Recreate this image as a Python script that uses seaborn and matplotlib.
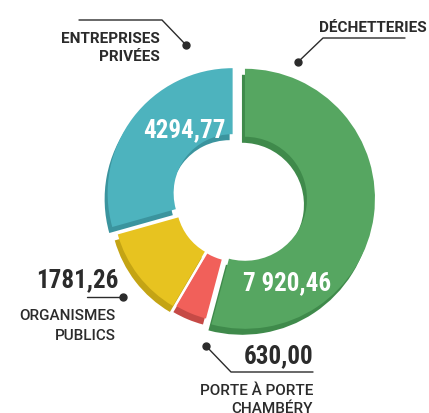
import matplotlib
matplotlib.use('Agg')
import matplotlib.pyplot as plt
import seaborn as sns

# ---- data ----
categories = ['DÉCHETTERIES', 'PORTE À PORTE\nCHAMBÉRY', 'ORGANISMES\nPUBLICS', 'ENTREPRISES\nPRIVÉES']
values = [7920.46, 630.00, 1781.26, 4294.77]
value_labels = ['7 920,46', '630,00', '1781,26', '4294,77']
colors = ['#56A661', '#F1605A', '#E7C320', '#4DB3BE']
shadow_colors = ['#3F8A4B', '#C64A46', '#C4A414', '#3B949E']

sns.set_theme(style='white')
plt.rcParams['font.family'] = ['Roboto', 'DejaVu Sans']

W, H = 429, 413
fig = plt.figure(figsize=(W / 100, H / 100), dpi=100)
ax = fig.add_axes([0, 0, 1, 1])

def Y(y):
    return H - y

cx, cy = 239, Y(198)
R = 130
outer = [130, 119, 121, 125]
inner = [62, 58, 58, 59]
expl = [6, 6, 6, 8]

def draw(center, cols, z):
    wedges, _ = ax.pie(values, radius=R, center=center, startangle=90, counterclock=False,
                       colors=cols, explode=expl, wedgeprops=dict(width=R - 62, linewidth=0))
    for w, ro, ri in zip(wedges, outer, inner):
        w.set_radius(ro)
        w.set_width(ro - ri)
        w.set_zorder(z)
    return wedges

draw((cx - 3, cy - 6), shadow_colors, 1)   # 3D shadow
draw((cx, cy), colors, 2)                  # main ring

ax.set_xlim(0, W)
ax.set_ylim(0, H)
ax.set_aspect('equal')
ax.axis('off')

dark = '#2b2b2b'
numfont = ['Liberation Sans Narrow', 'Roboto Condensed', 'Roboto', 'DejaVu Sans']

# values inside slices
ax.text(184, Y(137), value_labels[3], color='white', fontsize=18, fontweight='bold',
        family=numfont, ha='center', va='baseline', zorder=5)
ax.text(287, Y(290), value_labels[0], color='white', fontsize=18, fontweight='bold',
        family=numfont, ha='center', va='baseline', zorder=5)

# values outside
ax.text(118, Y(287), value_labels[2], color=dark, fontsize=18, fontweight='bold',
        family=numfont, ha='right', va='baseline')
ax.text(313, Y(363), value_labels[1], color=dark, fontsize=18, fontweight='bold',
        family=numfont, ha='right', va='baseline')

# category labels
ax.text(160, Y(43), 'ENTREPRISES', color=dark, fontsize=11, fontweight='bold', ha='right', va='baseline')
ax.text(160, Y(61), 'PRIVÉES', color=dark, fontsize=11, fontweight='bold', ha='right', va='baseline')
ax.text(427, Y(32), categories[0], color=dark, fontsize=11, fontweight='bold', ha='right', va='baseline')
ax.text(116, Y(320), 'ORGANISMES', color=dark, fontsize=11, fontweight='medium', ha='right', va='baseline')
ax.text(116, Y(340), 'PUBLICS', color=dark, fontsize=11, fontweight='medium', ha='right', va='baseline')
ax.text(313, Y(395), 'PORTE À PORTE', color=dark, fontsize=11, fontweight='medium', ha='right', va='baseline')
ax.text(313, Y(413), 'CHAMBÉRY', color=dark, fontsize=11, fontweight='medium', ha='right', va='baseline')

# leader lines
lw = 1.0
ax.plot([79, 162, 186], [Y(20), Y(20), Y(45)], color=dark, lw=lw)
ax.plot([186], [Y(45)], 'o', color=dark, ms=5)
ax.plot([405, 323, 298], [Y(38), Y(38), Y(62)], color=dark, lw=lw)
ax.plot([298], [Y(62)], 'o', color=dark, ms=5)
ax.plot([87, 123], [Y(297), Y(297)], color=dark, lw=lw)
ax.plot([123], [Y(297)], 'o', color=dark, ms=5)
ax.plot([206, 231, 313], [Y(346), Y(372), Y(372)], color=dark, lw=lw)
ax.plot([206], [Y(346)], 'o', color=dark, ms=5)

fig.savefig('out.png', dpi=100, facecolor='white')
